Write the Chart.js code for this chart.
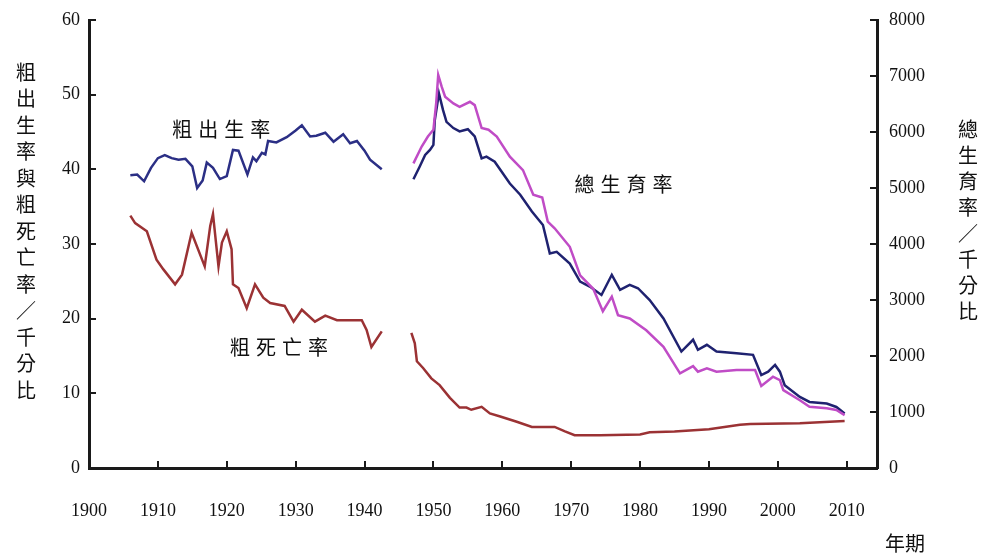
<!DOCTYPE html>
<html>
<head>
<meta charset="utf-8">
<script src="https://cdn.jsdelivr.net/npm/chart.js@4.4.1/dist/chart.umd.min.js"></script>
<style>
    html, body { margin: 0; padding: 0; background: #fff; }
    #wrap { width: 982px; height: 557px; position: relative; }
</style>
</head>
<body>
<div id="wrap"><canvas id="popChart"></canvas></div>
<script>
// Crude birth rate (per mille), 1906-1943
const birthYears = [1906, 1907, 1908, 1909, 1910, 1911, 1912, 1913, 1914, 1915, 1915.7, 1916.5, 1917.1, 1918, 1919, 1920, 1920.9, 1921.7, 1923, 1923.8, 1924.3, 1925.1, 1925.6, 1926, 1927.2, 1928.7, 1930, 1930.9, 1932.1, 1933, 1934.3, 1935.5, 1936.9, 1937.9, 1938.9, 1940, 1940.8, 1942.5];
const birthRate = [39.2, 39.3, 38.4, 40.2, 41.5, 41.9, 41.5, 41.3, 41.4, 40.4, 37.5, 38.5, 40.9, 40.2, 38.7, 39.1, 42.6, 42.5, 39.3, 41.6, 41.1, 42.2, 42.0, 43.8, 43.6, 44.3, 45.2, 45.9, 44.4, 44.5, 44.9, 43.7, 44.7, 43.5, 43.8, 42.5, 41.3, 40.0];

// Crude death rate (per mille), before and after the war gap
const deathYearsPre = [1906, 1906.7, 1908.4, 1909.8, 1910.8, 1912.5, 1913.5, 1914.9, 1916.8, 1917.6, 1918, 1918.8, 1919.3, 1920, 1920.7, 1920.9, 1921.7, 1922.9, 1924.1, 1925.3, 1926.3, 1928.4, 1929.7, 1930.9, 1932.8, 1934.3, 1936, 1939.6, 1940.3, 1941, 1942.5];
const deathRatePre = [33.8, 32.8, 31.7, 27.9, 26.6, 24.6, 25.9, 31.5, 27.0, 32.4, 34.0, 27.0, 30.2, 31.7, 29.3, 24.6, 24.1, 21.4, 24.6, 22.8, 22.1, 21.7, 19.6, 21.2, 19.6, 20.4, 19.8, 19.8, 18.5, 16.2, 18.3];
const deathYearsPost = [1946.8, 1947.3, 1947.6, 1948.5, 1949.7, 1950.9, 1952.4, 1953.8, 1954.8, 1955.5, 1957, 1958.2, 1959.7, 1962.1, 1964.3, 1967.6, 1969.1, 1970.5, 1974.2, 1980, 1981.4, 1985, 1990, 1994.5, 1996, 2003.2, 2009.7];
const deathRatePost = [18.1, 16.7, 14.3, 13.4, 12.0, 11.1, 9.4, 8.1, 8.1, 7.8, 8.2, 7.3, 6.9, 6.2, 5.5, 5.5, 4.9, 4.4, 4.4, 4.5, 4.8, 4.9, 5.2, 5.8, 5.9, 6.0, 6.3];

// Total fertility rate (per mille), two series
const tfrYearsA = [1947.1, 1948, 1948.8, 1949.5, 1950, 1950.2, 1950.8, 1951.4, 1951.9, 1952.9, 1953.8, 1955, 1956, 1957, 1957.7, 1958.9, 1961.1, 1962.6, 1964.3, 1965.9, 1966.9, 1967.9, 1969.8, 1971.3, 1972.7, 1974.4, 1975.9, 1977.1, 1978.5, 1979.7, 1981.4, 1983.4, 1986, 1987.7, 1988.4, 1989.7, 1991.1, 1994, 1996.4, 1997.6, 1998.6, 1999.6, 2000.3, 2001, 2003.2, 2004.6, 2007.1, 2008.5, 2009.7];
const tfrValuesA = [5155, 5380, 5590, 5680, 5770, 6210, 6690, 6390, 6180, 6070, 6010, 6050, 5920, 5530, 5560, 5470, 5080, 4880, 4580, 4340, 3830, 3860, 3650, 3330, 3240, 3090, 3450, 3180, 3270, 3210, 3000, 2670, 2080, 2290, 2110, 2200, 2080, 2050, 2020, 1660, 1720, 1840, 1720, 1480, 1270, 1180, 1150, 1090, 975];
const tfrYearsB = [1947.1, 1948.3, 1949.2, 1950, 1950.4, 1950.7, 1951.2, 1951.7, 1952.9, 1953.8, 1955.3, 1956, 1957, 1958, 1959.2, 1961.1, 1963, 1964.5, 1965.8, 1966.6, 1967.6, 1969.8, 1971.3, 1973.2, 1974.6, 1975.9, 1976.8, 1978.5, 1980.9, 1983.4, 1985.8, 1987.7, 1988.4, 1989.7, 1991.1, 1994, 1996.7, 1997.6, 1999.3, 2000.3, 2000.8, 2003.2, 2004.6, 2007.1, 2008.5, 2009.7];
const tfrValuesB = [5440, 5740, 5920, 6040, 6510, 7020, 6810, 6630, 6510, 6450, 6540, 6480, 6070, 6040, 5920, 5560, 5320, 4880, 4830, 4400, 4280, 3950, 3440, 3200, 2800, 3060, 2730, 2670, 2460, 2165, 1690, 1820, 1720, 1780, 1720, 1750, 1750, 1465, 1630, 1570, 1390, 1210, 1095, 1065, 1035, 945];

// Axis ticks
const xTickYears = [1900, 1910, 1920, 1930, 1940, 1950, 1960, 1970, 1980, 1990, 2000, 2010];
const leftTicks = [0, 10, 20, 30, 40, 50, 60];
const rightTicks = [0, 1000, 2000, 3000, 4000, 5000, 6000, 7000, 8000];

const leftTitle = '粗出生率與粗死亡率／千分比';
const rightTitle = '總生育率／千分比';
const xTitle = '年期';

function toPoints(xs, ys) {
    return xs.map((x, i) => ({ x: x, y: ys[i] }));
}

const tickFont = { family: '"Liberation Serif", "Times New Roman", serif', size: 18 };
const cjkFont = '"Noto Sans CJK TC", "Noto Sans CJK SC", sans-serif';
const axisColor = '#1a1a1a';

/**
 * Line labels and stacked axis titles
 */
const textPlugin = {
    id: 'textPlugin',
    afterDraw(chart) {
        const ctx = chart.ctx;
        const xs = chart.scales.x;
        const yl = chart.scales.y;
        ctx.save();
        ctx.fillStyle = '#111';
        ctx.textAlign = 'center';
        ctx.textBaseline = 'middle';

        // series labels, placed in data coordinates
        ctx.font = '20px ' + cjkFont;
        const drawSpaced = (text, cx, cy, step) => {
            const chars = Array.from(text);
            const start = cx - (chars.length - 1) * step / 2;
            chars.forEach((c, i) => ctx.fillText(c, start + i * step, cy));
        };
        drawSpaced('粗出生率', xs.getPixelForValue(1919.2), yl.getPixelForValue(45.4), 26);
        drawSpaced('粗死亡率', xs.getPixelForValue(1927.6), yl.getPixelForValue(16.1), 26);
        drawSpaced('總生育率', xs.getPixelForValue(1977.6), yl.getPixelForValue(38.0), 26);

        // vertical axis titles
        Array.from(leftTitle).forEach((c, i) => ctx.fillText(c, 26, 72 + i * 26.5));
        Array.from(rightTitle).forEach((c, i) => ctx.fillText(c, 968, 129 + i * 26));

        ctx.fillText(xTitle, 905, 543);
        ctx.restore();
    }
};

// fixed axis sizes so the plot area lands where the reference has it
function fitY(width) {
    return s => {
        s.width = width;
        s.paddingTop = 0;
        s.paddingBottom = 0;
    };
}

document.addEventListener('DOMContentLoaded', () => {
    const ctx = document.getElementById('popChart');
    new Chart(ctx, {
        type: 'line',
        data: {
            datasets: [
                {
                    label: '粗出生率',
                    data: toPoints(birthYears, birthRate),
                    borderColor: '#2b2f85',
                    yAxisID: 'y'
                },
                {
                    label: '粗死亡率',
                    data: toPoints(deathYearsPre, deathRatePre),
                    borderColor: '#9b3234',
                    yAxisID: 'y'
                },
                {
                    label: '粗死亡率',
                    data: toPoints(deathYearsPost, deathRatePost),
                    borderColor: '#9b3234',
                    yAxisID: 'y'
                },
                {
                    label: '總生育率 B',
                    data: toPoints(tfrYearsB, tfrValuesB),
                    borderColor: '#c04cc6',
                    yAxisID: 'y1'
                },
                {
                    label: '總生育率 A',
                    data: toPoints(tfrYearsA, tfrValuesA),
                    borderColor: '#1f2270',
                    yAxisID: 'y1'
                }
            ]
        },
        options: {
            responsive: true,
            maintainAspectRatio: false,
            animation: false,
            elements: {
                line: { borderWidth: 2.5, tension: 0 },
                point: { radius: 0 }
            },
            layout: { padding: { top: 20, left: 0, right: 0, bottom: 0 } },
            plugins: {
                legend: { display: false },
                tooltip: { enabled: false }
            },
            scales: {
                x: {
                    type: 'linear',
                    min: 1900,
                    max: 2014.4,
                    afterBuildTicks: s => { s.ticks = xTickYears.map(v => ({ value: v })); },
                    afterFit: s => { s.height = 89; s.paddingLeft = 0; s.paddingRight = 0; },
                    grid: { drawOnChartArea: false, drawTicks: true, tickLength: -7, color: axisColor, lineWidth: 2 },
                    border: { display: true, color: axisColor, width: 3 },
                    ticks: {
                        color: '#111',
                        font: tickFont,
                        padding: 39,
                        maxRotation: 0,
                        autoSkip: false,
                        callback: v => String(v)
                    }
                },
                y: {
                    type: 'linear',
                    position: 'left',
                    min: 0,
                    max: 60,
                    afterBuildTicks: s => { s.ticks = leftTicks.map(v => ({ value: v })); },
                    afterFit: fitY(89),
                    grid: { drawOnChartArea: false, drawTicks: true, tickLength: -7, color: axisColor, lineWidth: 2 },
                    border: { display: true, color: axisColor, width: 3 },
                    ticks: { color: '#111', font: tickFont, padding: 16, callback: v => String(v) }
                },
                y1: {
                    type: 'linear',
                    position: 'right',
                    min: 0,
                    max: 8000,
                    afterBuildTicks: s => { s.ticks = rightTicks.map(v => ({ value: v })); },
                    afterFit: fitY(105),
                    grid: { drawOnChartArea: false, drawTicks: true, tickLength: -7, color: axisColor, lineWidth: 2 },
                    border: { display: true, color: axisColor, width: 3 },
                    ticks: { color: '#111', font: tickFont, padding: 19, callback: v => String(v) }
                }
            }
        },
        plugins: [textPlugin]
    });
});
</script>
</body>
</html>
